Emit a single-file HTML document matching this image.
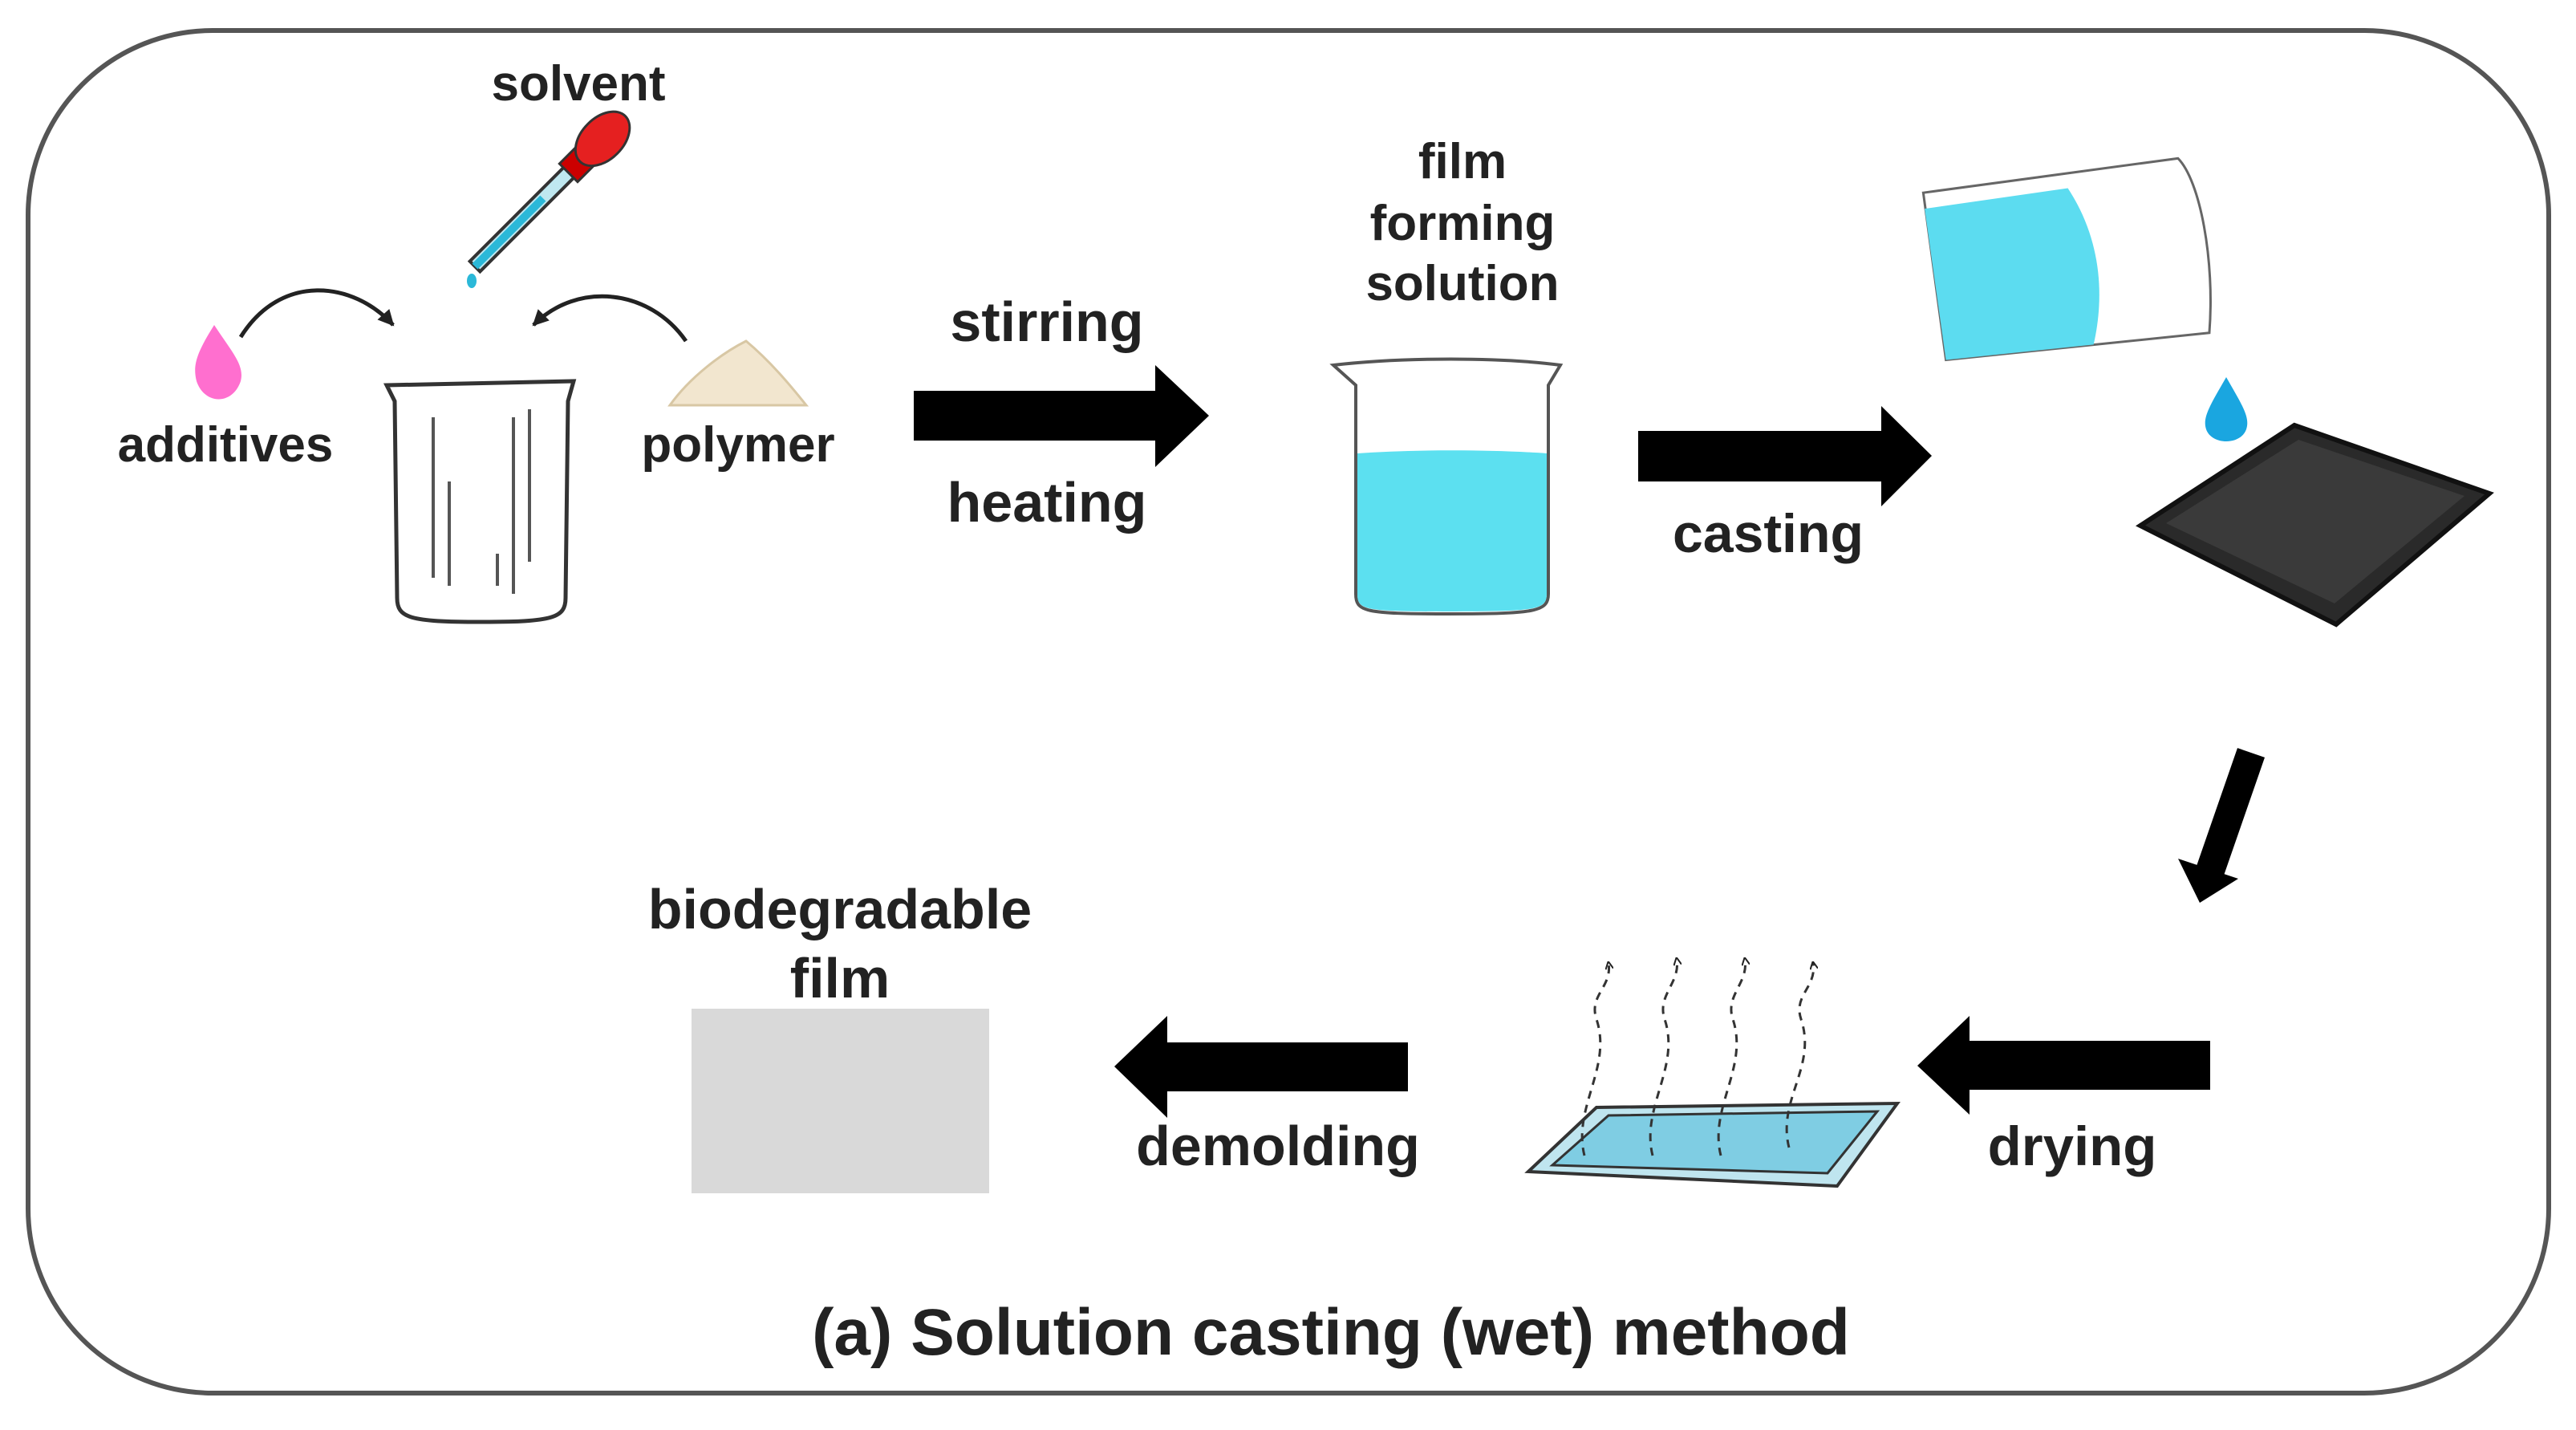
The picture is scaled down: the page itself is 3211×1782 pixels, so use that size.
<!DOCTYPE html>
<html><head><meta charset="utf-8"><style>
html,body{margin:0;padding:0;background:#fff}
svg{display:block}
text{font-family:"Liberation Sans",sans-serif;font-weight:bold;fill:#222;text-anchor:middle}
</style></head><body>
<svg width="3211" height="1782" viewBox="0 0 3211 1782" xmlns="http://www.w3.org/2000/svg">
<defs>
<marker id="ah" markerWidth="10" markerHeight="10" refX="8" refY="5" orient="auto" markerUnits="userSpaceOnUse"><path d="M0,0 L10,5 L0,10" fill="none" stroke="#222" stroke-width="2"/></marker>
<marker id="ah2" markerWidth="24" markerHeight="24" refX="20" refY="12" orient="auto" markerUnits="userSpaceOnUse"><path d="M2,2 L22,12 L2,22 Z" fill="#222"/></marker>
</defs>
<rect x="35" y="38" width="3142" height="1698" rx="230" ry="230" fill="#fff" stroke="#555" stroke-width="6"/>

<text x="721" y="125" font-size="62">solvent</text>
<text x="281" y="575" font-size="62">additives</text>
<text x="920" y="575" font-size="62">polymer</text>

<!-- dropper -->
<g transform="translate(592,332) rotate(-45)">
<rect x="0" y="-9" width="170" height="18" fill="#bfe8f0" stroke="#333" stroke-width="4"/>
<rect x="0" y="-5" width="120" height="10" fill="#2bb8d8"/>
<rect x="165" y="-16" width="30" height="32" fill="#c00" stroke="#333" stroke-width="3"/>
<ellipse cx="225" cy="0" rx="40" ry="26" fill="#e52020" stroke="#333" stroke-width="3"/>
</g>
<ellipse cx="588" cy="350" rx="6" ry="9" fill="#2bb8d8"/>

<path d="M267,405 C245,440 240,455 245,475 C255,505 290,505 300,475 C305,455 290,440 267,405 Z" fill="#ff6fcf"/>
<path d="M835,505 C860,470 900,440 930,425 C960,450 985,480 1005,505 Z" fill="#f2e6cf" stroke="#d8c7a4" stroke-width="3"/>

<path d="M300,420 C350,340 440,350 490,405" fill="none" stroke="#222" stroke-width="5" marker-end="url(#ah2)"/>
<path d="M855,425 C810,360 720,350 665,405" fill="none" stroke="#222" stroke-width="5" marker-end="url(#ah2)"/>

<path d="M482,480 L715,475 L708,500 L705,745 C705,770 690,775 600,775 C510,775 495,770 495,745 L492,500 Z" fill="#fff" stroke="#333" stroke-width="5"/>
<g stroke="#555" stroke-width="4">
<line x1="540" y1="520" x2="540" y2="720"/><line x1="560" y1="600" x2="560" y2="730"/>
<line x1="640" y1="520" x2="640" y2="740"/><line x1="660" y1="510" x2="660" y2="700"/>
<line x1="620" y1="690" x2="620" y2="730"/>
</g>

<path d="M1139,487 L1440,487 L1440,455 L1507,518 L1440,582 L1440,549 L1139,549 Z" fill="#000"/>
<text x="1305" y="425" font-size="70">stirring</text>
<text x="1305" y="650" font-size="70">heating</text>

<text x="1823" y="222" font-size="62">film</text>
<text x="1823" y="299" font-size="62">forming</text>
<text x="1823" y="374" font-size="62">solution</text>

<path d="M1662,455 C1750,445 1870,445 1945,455 L1930,480 L1930,740 C1930,762 1915,765 1805,765 C1700,765 1690,762 1690,740 L1690,480 Z" fill="#fff" stroke="#555" stroke-width="4"/>
<path d="M1692,565 C1760,560 1860,560 1928,565 L1928,740 C1928,760 1915,762 1805,762 C1700,762 1692,760 1692,740 Z" fill="#5ce0f0"/>

<path d="M2042,537 L2345,537 L2345,506 L2408,568 L2345,631 L2345,600 L2042,600 Z" fill="#000"/>
<text x="2204" y="688" font-size="68">casting</text>

<!-- pouring beaker -->
<g transform="translate(2575,320) rotate(-5)">
<path d="M-170,-95 L150,-110 C175,-80 185,20 170,110 L-160,115 Z" fill="#fff" stroke="#666" stroke-width="3"/>
<path d="M-170,-75 L10,-85 C45,-20 45,50 25,112 L-160,115 Z" fill="#5cdcf0"/>
</g>
<path d="M2775,470 C2755,505 2745,520 2750,535 C2757,555 2793,555 2800,535 C2805,520 2795,505 2775,470 Z" fill="#1aa6e0"/>

<!-- dark tray -->
<path d="M2668,655 L2860,530 L3103,615 L2912,778 Z" fill="#2a2a2a" stroke="#111" stroke-width="6"/>
<path d="M2700,652 L2865,548 L3072,618 L2910,752 Z" fill="#3a3a3a"/>

<path d="M2806,938 L2755,1085" stroke="#000" stroke-width="36"/>
<path d="M2715,1070 L2790,1095 L2742,1125 Z" fill="#000"/>

<path d="M2755,1297 L2455,1297 L2455,1266 L2390,1328 L2455,1389 L2455,1358 L2755,1358 Z" fill="#000"/>
<text x="2583" y="1452" font-size="69">drying</text>

<path d="M1905,1460 L1990,1380 L2365,1375 L2290,1478 Z" fill="#bfe5ef" stroke="#333" stroke-width="4"/>
<path d="M1935,1452 L2005,1390 L2340,1385 L2278,1462 Z" fill="#7fcde3" stroke="#333" stroke-width="3"/>
<g fill="none" stroke="#333" stroke-width="3" stroke-dasharray="10,8" marker-end="url(#ah)">
<path d="M1975,1440 C1960,1380 2010,1330 1990,1270 C1980,1240 2010,1230 2005,1200"/>
<path d="M2060,1440 C2045,1380 2095,1330 2075,1270 C2065,1240 2095,1225 2090,1195"/>
<path d="M2145,1440 C2130,1380 2180,1330 2160,1270 C2150,1240 2180,1225 2175,1195"/>
<path d="M2230,1430 C2215,1370 2265,1330 2245,1270 C2235,1240 2265,1230 2260,1200"/>
</g>

<path d="M1755,1299 L1455,1299 L1455,1266 L1389,1329 L1455,1393 L1455,1360 L1755,1360 Z" fill="#000"/>
<text x="1593" y="1452" font-size="70">demolding</text>

<text x="1047" y="1157" font-size="70">biodegradable</text>
<text x="1047" y="1243" font-size="70">film</text>
<rect x="862" y="1257" width="371" height="230" fill="#d9d9d9"/>

<text x="1659" y="1688" font-size="82">(a)  Solution casting (wet) method</text>
</svg>
</body></html>
